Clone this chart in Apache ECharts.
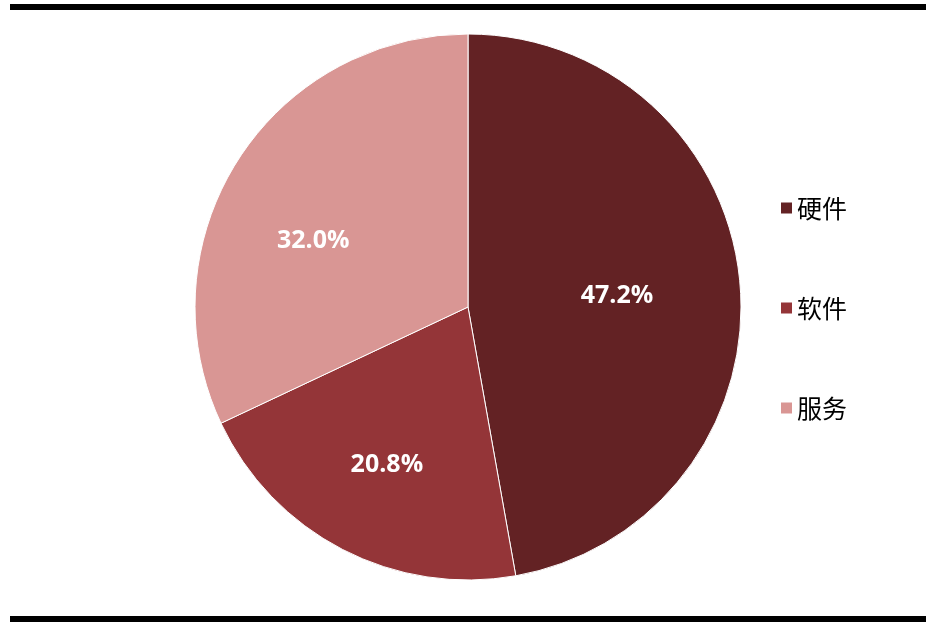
<!DOCTYPE html>
<html>
<head>
<meta charset="utf-8">
<script src="https://cdn.jsdelivr.net/npm/echarts@6/dist/echarts.min.js"></script>
<style>
html,body{margin:0;padding:0;background:#fff;}
#chart{width:932px;height:624px;}
</style>
</head>
<body>
<div id="chart"></div>
<script>
const categories = ['硬件', '软件', '服务'];
const shares = [47.2, 20.8, 32.0];
const colors = ['#632224', '#943538', '#D99694'];
// label offsets (styling) to mimic reference label placement
const labelOffsets = [[10, 1], [-17, 34], [-37, 9]];

const chart = echarts.init(document.getElementById('chart'));
chart.setOption({
  animation: false,
  backgroundColor: '#ffffff',
  graphic: [
    { type: 'rect', shape: { x: 10, y: 4, width: 916, height: 6 }, style: { fill: '#000' } },
    { type: 'rect', shape: { x: 10, y: 616, width: 916, height: 6 }, style: { fill: '#000' } }
  ],
  legend: {
    orient: 'vertical',
    left: 781,
    top: 193,
    padding: 0,
    itemWidth: 11,
    itemHeight: 11,
    itemGap: 70,
    icon: 'rect',
    itemStyle: { borderWidth: 0 },
    data: categories,
    textStyle: {
      fontFamily: 'Noto Sans CJK SC',
      fontSize: 25,
      lineHeight: 30,
      color: '#000'
    }
  },
  series: [{
    type: 'pie',
    center: [468, 307],
    radius: [0, 273],
    startAngle: 90,
    clockwise: true,
    label: {
      show: true,
      position: 'inside',
      color: '#fff',
      fontFamily: 'Open Sans',
      fontWeight: 'bold',
      fontSize: 25,
      formatter: p => p.value.toFixed(1) + '%'
    },
    labelLine: { show: false },
    itemStyle: { borderColor: '#fff', borderWidth: 1 },
    emphasis: { disabled: true },
    data: categories.map((name, i) => ({
      name: name,
      value: shares[i],
      itemStyle: { color: colors[i] },
      label: { offset: labelOffsets[i] }
    }))
  }]
});
</script>
</body>
</html>
